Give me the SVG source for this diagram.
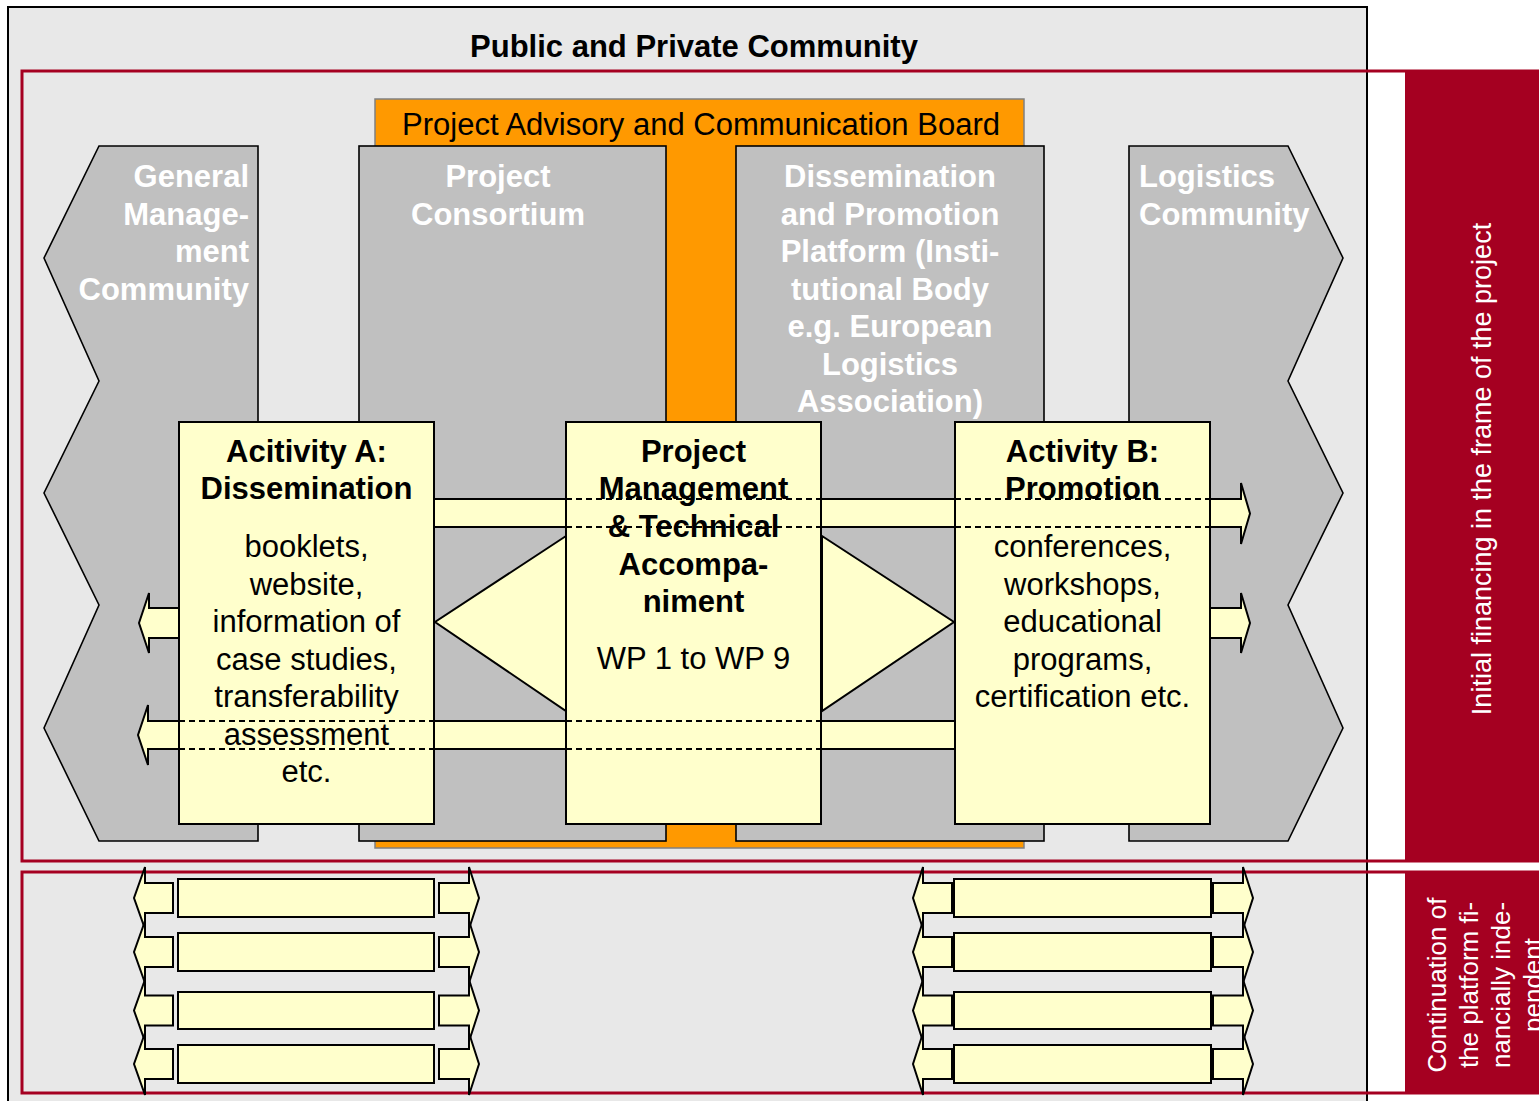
<svg xmlns="http://www.w3.org/2000/svg" width="1539" height="1101" viewBox="0 0 1539 1101">
  <style>
    text { font-family: "Liberation Sans", Arial, sans-serif; }
    .title { font-size: 31px; font-weight: bold; fill: #000; }
    .board { font-size: 31px; fill: #000; }
    .grey { fill: #C0C0C0; stroke: #000; stroke-width: 1.6; stroke-linejoin: miter; }
    .wlabel { font-size: 31px; font-weight: bold; fill: #FFF; }
    .box { fill: #FFFFCC; stroke: #000; stroke-width: 2; }
    .arrow { fill: #FFFFCC; stroke: #000; stroke-width: 2; stroke-linejoin: miter; }
    .dash { stroke: #000; stroke-width: 2; stroke-dasharray: 6 4; fill: none; }
    .head { font-size: 31px; font-weight: bold; fill: #000; }
    .body { font-size: 31px; fill: #000; }
    .redline { fill: none; stroke: #A50021; stroke-width: 3; }
    .redpanel { fill: #A50021; }
    .vtext { font-size: 27px; fill: #FFF; }
  </style>

  <!-- page -->
  <rect x="0" y="0" width="1539" height="1101" fill="#FFFFFF"/>

  <!-- community frame -->
  <g id="community-frame">
    <rect x="8" y="7" width="1359" height="1110" fill="#E8E8E8" stroke="#000" stroke-width="2"/>
    <text class="title" x="694" y="57" text-anchor="middle">Public and Private Community</text>
  </g>

  <!-- phase frames -->
  <g id="phase-initial">
    <rect class="redline" x="22" y="71" width="1530" height="790"/>
    <rect class="redpanel" x="1405" y="72" width="134" height="789"/>
    <text class="vtext" transform="translate(1491,469) rotate(-90)" text-anchor="middle">Initial financing in the frame of the project</text>
  </g>
  <g id="phase-continuation">
    <rect class="redline" x="22" y="872" width="1530" height="221"/>
    <rect class="redpanel" x="1405" y="871" width="134" height="222"/>
    <text class="vtext" style="font-size:26px" transform="translate(1446,985) rotate(-90)" text-anchor="middle"><tspan x="0" dy="0">Continuation of</tspan><tspan x="0" dy="32">the platform fi-</tspan><tspan x="0" dy="32">nancially inde-</tspan><tspan x="0" dy="32">pendent</tspan></text>
  </g>

  <!-- advisory board (orange backdrop) -->
  <g id="advisory-board">
    <rect x="375" y="99" width="649" height="749" fill="#FF9900" stroke="#808080" stroke-width="1.5"/>
    <text class="board" x="701" y="135" text-anchor="middle">Project Advisory and Communication Board</text>
  </g>

  <!-- communities / bodies -->
  <g id="general-management-community">
    <polygon class="grey" points="99,146 258,146 258,841 99,841 44,728 99,605 44,493 99,381 44,258"/>
    <text class="wlabel" text-anchor="end"><tspan x="249" y="187">General</tspan><tspan x="249" y="224.5">Manage-</tspan><tspan x="249" y="262">ment</tspan><tspan x="249" y="299.5">Community</tspan></text>
  </g>
  <g id="project-consortium">
    <rect class="grey" x="359" y="146" width="307" height="695"/>
    <text class="wlabel" text-anchor="middle"><tspan x="498" y="187">Project</tspan><tspan x="498" y="224.5">Consortium</tspan></text>
  </g>
  <g id="dissemination-platform">
    <rect class="grey" x="736" y="146" width="308" height="695"/>
    <text class="wlabel" text-anchor="middle"><tspan x="890" y="187">Dissemination</tspan><tspan x="890" y="224.5">and Promotion</tspan><tspan x="890" y="262">Platform (Insti-</tspan><tspan x="890" y="299.5">tutional Body</tspan><tspan x="890" y="337">e.g. European</tspan><tspan x="890" y="374.5">Logistics</tspan><tspan x="890" y="412">Association)</tspan></text>
  </g>
  <g id="logistics-community">
    <polygon class="grey" points="1129,146 1288,146 1343,258 1288,381 1343,493 1288,605 1343,728 1288,841 1129,841"/>
    <text class="wlabel"><tspan x="1139" y="187">Logistics</tspan><tspan x="1139" y="224.5">Community</tspan></text>
  </g>

  <!-- connectors -->
  <g id="connectors">
    <!-- band towards the logistics community -->
    <polygon class="arrow" points="434,499 1241,499 1241,483 1250,513.5 1241,544 1241,527 434,527"/>
    <!-- band towards the general management community -->
    <polygon class="arrow" points="955,721 148,721 148,705 138,735 148,765 148,749 955,749"/>
    <!-- side outputs -->
    <polygon class="arrow" points="179,608 149,608 149,593 139,623 149,653 149,638 179,638"/>
    <polygon class="arrow" points="1210,608 1241,608 1241,593 1250,623 1241,653 1241,638 1210,638"/>
    <!-- feeds from project management -->
    <polygon class="arrow" points="566,536 566,711 435,622"/>
    <polygon class="arrow" points="822,536 822,711 954,622"/>
  </g>

  <!-- activities -->
  <g id="activity-a">
    <rect class="box" x="179" y="422" width="255" height="402"/>
    <text class="head" text-anchor="middle"><tspan x="306.5" y="462">Acitivity A:</tspan><tspan x="306.5" y="499">Dissemination</tspan></text>
    <text class="body" text-anchor="middle"><tspan x="306.5" y="557">booklets,</tspan><tspan x="306.5" y="594.5">website,</tspan><tspan x="306.5" y="632">information of</tspan><tspan x="306.5" y="669.5">case studies,</tspan><tspan x="306.5" y="707">transferability</tspan><tspan x="306.5" y="744.5">assessment</tspan><tspan x="306.5" y="782">etc.</tspan></text>
  </g>
  <g id="project-management">
    <rect class="box" x="566" y="422" width="255" height="402"/>
    <text class="head" text-anchor="middle"><tspan x="693.5" y="462">Project</tspan><tspan x="693.5" y="499">Management</tspan><tspan x="693.5" y="537">&amp; Technical</tspan><tspan x="693.5" y="574.5">Accompa-</tspan><tspan x="693.5" y="612">niment</tspan></text>
    <text class="body" x="693.5" y="669" text-anchor="middle">WP 1 to WP 9</text>
  </g>
  <g id="activity-b">
    <rect class="box" x="955" y="422" width="255" height="402"/>
    <text class="head" text-anchor="middle"><tspan x="1082.5" y="462">Activity B:</tspan><tspan x="1082.5" y="499">Promotion</tspan></text>
    <text class="body" text-anchor="middle"><tspan x="1082.5" y="557">conferences,</tspan><tspan x="1082.5" y="594.5">workshops,</tspan><tspan x="1082.5" y="632">educational</tspan><tspan x="1082.5" y="669.5">programs,</tspan><tspan x="1082.5" y="707">certification etc.</tspan></text>
  </g>

  <!-- band edges running across the activity boxes -->
  <g id="band-edges">
    <line class="dash" x1="566" y1="499" x2="821" y2="499"/>
    <line class="dash" x1="566" y1="527" x2="821" y2="527"/>
    <line class="dash" x1="955" y1="499" x2="1210" y2="499"/>
    <line class="dash" x1="955" y1="527" x2="1210" y2="527"/>
    <line class="dash" x1="179" y1="721" x2="434" y2="721"/>
    <line class="dash" x1="179" y1="749" x2="434" y2="749"/>
    <line class="dash" x1="566" y1="721" x2="821" y2="721"/>
    <line class="dash" x1="566" y1="749" x2="821" y2="749"/>
  </g>

  <!-- continuation: dissemination column -->
  <g id="continuation-a">
    <polygon class="arrow" points="173,883 145,883 145,867 134,898 145,929 145,913 173,913"/>
    <polygon class="arrow" points="439,883 469,883 469,867 479,898 469,929 469,913 439,913"/>
    <rect class="box" x="178" y="879" width="256" height="38"/>
    <polygon class="arrow" points="173,937 145,937 145,921 134,952 145,983 145,967 173,967"/>
    <polygon class="arrow" points="439,937 469,937 469,921 479,952 469,983 469,967 439,967"/>
    <rect class="box" x="178" y="933" width="256" height="38"/>
    <polygon class="arrow" points="173,995.5 145,995.5 145,979.5 134,1010.5 145,1041.5 145,1025.5 173,1025.5"/>
    <polygon class="arrow" points="439,995.5 469,995.5 469,979.5 479,1010.5 469,1041.5 469,1025.5 439,1025.5"/>
    <rect class="box" x="178" y="992" width="256" height="37"/>
    <polygon class="arrow" points="173,1049 145,1049 145,1033 134,1064 145,1095 145,1079 173,1079"/>
    <polygon class="arrow" points="439,1049 469,1049 469,1033 479,1064 469,1095 469,1079 439,1079"/>
    <rect class="box" x="178" y="1045" width="256" height="38"/>
  </g>

  <!-- continuation: promotion column -->
  <g id="continuation-b">
    <polygon class="arrow" points="952,883 923,883 923,867 913,898 923,929 923,913 952,913"/>
    <polygon class="arrow" points="1213,883 1243,883 1243,867 1253,898 1243,929 1243,913 1213,913"/>
    <rect class="box" x="954" y="879" width="257" height="38"/>
    <polygon class="arrow" points="952,937 923,937 923,921 913,952 923,983 923,967 952,967"/>
    <polygon class="arrow" points="1213,937 1243,937 1243,921 1253,952 1243,983 1243,967 1213,967"/>
    <rect class="box" x="954" y="933" width="257" height="38"/>
    <polygon class="arrow" points="952,995.5 923,995.5 923,979.5 913,1010.5 923,1041.5 923,1025.5 952,1025.5"/>
    <polygon class="arrow" points="1213,995.5 1243,995.5 1243,979.5 1253,1010.5 1243,1041.5 1243,1025.5 1213,1025.5"/>
    <rect class="box" x="954" y="992" width="257" height="37"/>
    <polygon class="arrow" points="952,1049 923,1049 923,1033 913,1064 923,1095 923,1079 952,1079"/>
    <polygon class="arrow" points="1213,1049 1243,1049 1243,1033 1253,1064 1243,1095 1243,1079 1213,1079"/>
    <rect class="box" x="954" y="1045" width="257" height="38"/>
  </g>
</svg>
